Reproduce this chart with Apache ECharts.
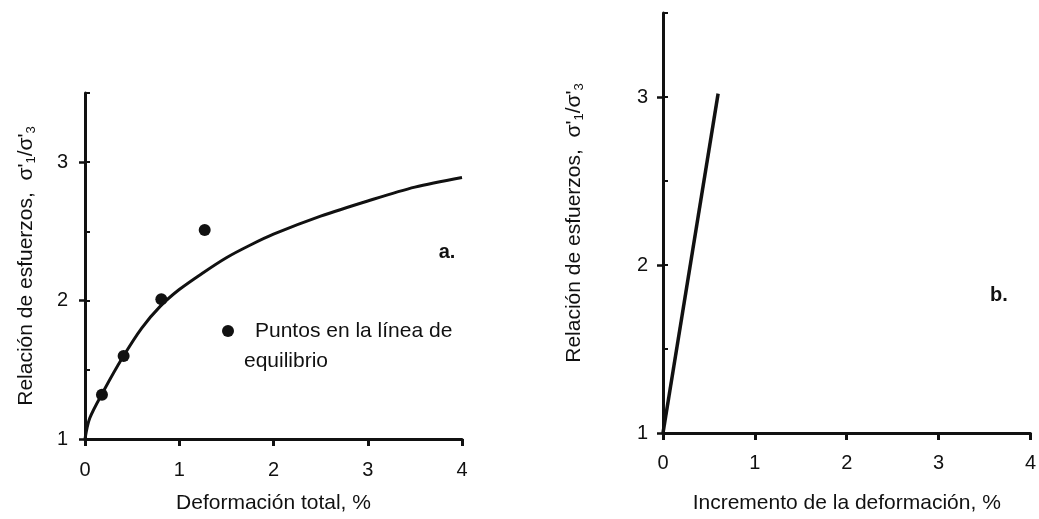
<!DOCTYPE html>
<html>
<head>
<meta charset="utf-8">
<script src="https://cdn.jsdelivr.net/npm/echarts@6/dist/echarts.min.js"></script>
<style>
  html, body { margin: 0; padding: 0; background: #fff; }
  #chart { width: 1039px; height: 519px; }
</style>
</head>
<body>
<div id="chart"></div>
<script>
// Panel a: fitted curve of stress ratio against total strain
const totalStrain = [0, 0.05, 0.2, 0.4, 0.6, 0.8, 1.0, 1.25, 1.5, 1.75, 2.0, 2.5, 3.0, 3.5, 4.0];
const stressRatioCurve = [1.0, 1.15, 1.35, 1.59, 1.80, 1.96, 2.08, 2.20, 2.31, 2.40, 2.48, 2.61, 2.72, 2.82, 2.89];

// Panel a: points on the equilibrium line
const equilibriumStrain = [0.18, 0.41, 0.81, 1.27];
const equilibriumRatio = [1.32, 1.60, 2.01, 2.51];

// Panel b: stress ratio against strain increment
const strainIncrement = [0, 0.6];
const stressRatioIncrement = [1.0, 3.02];

// Axis ticks
const xTickValues = [0, 1, 2, 3, 4];
const yTickValues = [1, 2, 3];

const FONT = "'Liberation Sans', Arial, Helvetica, sans-serif";
const INK = '#111';

const zip = (xs, ys) => xs.map((x, i) => [x, ys[i]]);

const yName = "Relación de esfuerzos,  σ'{s|1}/σ'{s|3}";
const yNameStyle = {
  fontFamily: FONT, fontSize: 21, color: INK, lineHeight: 24,
  rich: { s: { fontFamily: FONT, fontSize: 13, color: INK, verticalAlign: 'bottom', lineHeight: 13 } }
};

function xAxisFor(gridIndex, name, gap, labelMargin) {
  return {
    type: 'value', gridIndex, min: 0, max: 4, interval: 1,
    name, nameLocation: 'middle', nameGap: gap,
    nameTextStyle: { fontFamily: FONT, fontSize: 21, color: INK },
    axisLine: { lineStyle: { color: INK, width: 3 } },
    axisTick: { customValues: xTickValues, length: 7, lineStyle: { color: INK, width: 3 } },
    axisLabel: { customValues: xTickValues, margin: labelMargin, fontFamily: FONT, fontSize: 20, color: INK },
    splitLine: { show: false }
  };
}

function yAxisFor(gridIndex, gap, labelMargin) {
  return {
    type: 'value', gridIndex, position: 'left', min: 1, max: 3.5, interval: 1,
    name: yName, nameLocation: 'middle', nameGap: gap, nameTextStyle: yNameStyle,
    axisLine: { lineStyle: { color: INK, width: 3 } },
    axisTick: { customValues: yTickValues, length: 6, lineStyle: { color: INK, width: 2.5 } },
    axisLabel: { customValues: yTickValues, margin: labelMargin, fontFamily: FONT, fontSize: 20, color: INK },
    splitLine: { show: false }
  };
}

// Secondary y axis on the same left edge, carrying the short inner ticks every 0.5
function innerTickAxis(gridIndex) {
  return {
    type: 'value', gridIndex, position: 'left', offset: 0, min: 1, max: 3.5, interval: 0.5,
    axisLine: { show: false },
    axisTick: { inside: true, length: 5, lineStyle: { color: INK, width: 2 } },
    axisLabel: { show: false },
    splitLine: { show: false }
  };
}

const chart = echarts.init(document.getElementById('chart'), null, { renderer: 'canvas' });

chart.setOption({
  backgroundColor: '#fff',
  animation: false,
  grid: [
    { left: 85, top: 93, width: 377, height: 352 },
    { left: 663, top: 13, width: 370, height: 422 }
  ],
  xAxis: [
    xAxisFor(0, 'Deformación total, %', 54, 21),
    xAxisFor(1, 'Incremento de la deformación, %', 60, 20)
  ],
  yAxis: [
    yAxisFor(0, 47, 17),
    innerTickAxis(0),
    yAxisFor(1, 77, 15),
    innerTickAxis(1)
  ],
  series: [
    {
      type: 'line', name: 'Curva', xAxisIndex: 0, yAxisIndex: 0,
      data: zip(totalStrain, stressRatioCurve),
      smooth: 0.3, showSymbol: false,
      lineStyle: { color: INK, width: 3 }
    },
    {
      type: 'scatter', name: 'Puntos en la línea de equilibrio', xAxisIndex: 0, yAxisIndex: 0,
      data: zip(equilibriumStrain, equilibriumRatio),
      symbol: 'circle', symbolSize: 12,
      itemStyle: { color: INK, opacity: 1 }
    },
    {
      type: 'line', name: 'Incremento', xAxisIndex: 1, yAxisIndex: 2,
      data: zip(strainIncrement, stressRatioIncrement),
      showSymbol: false,
      lineStyle: { color: INK, width: 3.5 }
    }
  ],
  graphic: [
    { type: 'circle', shape: { cx: 228, cy: 331, r: 6 }, style: { fill: INK } },
    { type: 'text', x: 255, y: 331,
      style: { text: 'Puntos en la línea de', font: '21px ' + FONT, fill: INK, align: 'left', verticalAlign: 'middle' } },
    { type: 'text', x: 244, y: 361,
      style: { text: 'equilibrio', font: '21px ' + FONT, fill: INK, align: 'left', verticalAlign: 'middle' } },
    { type: 'text', x: 447, y: 252,
      style: { text: 'a.', font: 'bold 20px ' + FONT, fill: INK, align: 'center', verticalAlign: 'middle' } },
    { type: 'text', x: 999, y: 295,
      style: { text: 'b.', font: 'bold 20px ' + FONT, fill: INK, align: 'center', verticalAlign: 'middle' } }
  ]
});
</script>
</body>
</html>
